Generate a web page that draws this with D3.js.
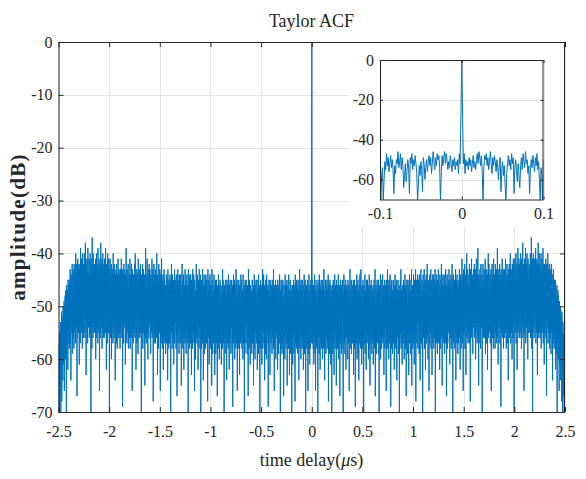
<!DOCTYPE html>
<html>
<head>
<meta charset="utf-8">
<script src="https://cdn.jsdelivr.net/npm/d3@7"></script>
<style>
  body { margin: 0; background: #fff; }
  text { font-family: "Liberation Serif", "Times New Roman", serif; fill: #262626; }
</style>
</head>
<body>
<svg id="chart" width="586" height="479"></svg>
<script>
// Autocorrelation magnitude (dB) of the Taylor-weighted waveform.
// |R(-t)| = |R(t)|, so only the non-negative lags are stored.

// Full span: lags 0 … 2.5 µs, 0.0025 µs apart (20 samples per row)
const fullLagStep = 0.0025;
const fullSpanDb = [
  0, -47, -57, -45, -55, -50, -58, -46, -61, -48, -56, -44, -53, -59, -47, -66, -52, -45, -57, -49,
  -58, -46, -54, -48, -70, -45, -56, -51, -47, -59, -44, -55, -49, -62, -46, -57, -50, -45, -58, -52,
  -47, -56, -45, -60, -49, -53, -46, -58, -43, -55, -48, -64, -47, -57, -45, -54, -59, -46, -52, -56,
  -45, -58, -50, -47, -57, -44, -68, -49, -55, -46, -59, -51, -45, -56, -48, -61, -46, -54, -47, -73,
  -48, -55, -46, -59, -52, -45, -57, -49, -63, -47, -54, -44, -58, -50, -46, -56, -48, -65, -45, -57,
  -51, -46, -58, -47, -55, -44, -60, -49, -56, -46, -53, -67, -48, -57, -45, -55, -50, -59, -46, -54,
  -58, -45, -52, -47, -71, -48, -56, -44, -57, -50, -46, -59, -49, -55, -45, -62, -47, -56, -51, -46,
  -55, -47, -60, -45, -53, -48, -57, -46, -66, -49, -54, -43, -58, -47, -56, -50, -45, -59, -48, -55,
  -46, -57, -49, -54, -45, -63, -47, -56, -50, -45, -58, -48, -69, -46, -55, -51, -47, -57, -44, -60,
  -48, -56, -45, -59, -47, -53, -64, -46, -57, -49, -44, -55, -48, -58, -43, -54, -50, -61, -46, -56,
  -47, -58, -45, -54, -49, -70, -46, -57, -48, -55, -44, -59, -47, -53, -50, -62, -45, -56, -48, -57,
  -45, -55, -51, -46, -60, -47, -56, -44, -58, -49, -65, -46, -54, -48, -57, -45, -53, -59, -47, -55,
  -49, -57, -46, -61, -48, -54, -45, -58, -47, -56, -43, -67, -50, -55, -46, -59, -48, -53, -45, -57,
  -56, -47, -54, -45, -59, -49, -72, -46, -55, -48, -57, -44, -60, -47, -53, -50, -58, -45, -56, -48,
  -44, -57, -49, -55, -46, -63, -47, -56, -45, -58, -50, -46, -54, -48, -66, -45, -57, -49, -55, -43,
  -58, -46, -53, -47, -60, -45, -56, -49, -57, -44, -55, -48, -69, -46, -58, -50, -45, -54, -47, -59,
  -48, -55, -45, -57, -50, -46, -62, -47, -56, -44, -58, -49, -53, -46, -57, -45, -64, -48, -55, -47,
  -56, -45, -59, -48, -54, -46, -71, -47, -57, -49, -45, -55, -43, -58, -47, -56, -50, -61, -46, -54,
  -47, -57, -45, -53, -49, -60, -46, -56, -44, -58, -48, -55, -46, -67, -47, -57, -45, -54, -50, -59,
  -45, -56, -48, -63, -46, -55, -44, -57, -49, -54, -47, -59, -45, -56, -43, -65, -48, -55, -46, -58,
  -46, -55, -44, -57, -48, -61, -45, -54, -47, -56, -43, -68, -49, -55, -45, -57, -46, -53, -44, -58,
  -56, -45, -53, -47, -59, -44, -55, -46, -64, -48, -54, -43, -57, -46, -52, -45, -58, -47, -70, -49,
  -44, -56, -46, -54, -43, -58, -48, -55, -45, -62, -47, -53, -44, -57, -46, -56, -42, -55, -48, -60,
  -47, -54, -45, -66, -46, -57, -44, -55, -48, -53, -43, -58, -46, -56, -45, -63, -47, -54, -44, -57,
  -55, -44, -58, -47, -53, -45, -56, -43, -71, -46, -55, -48, -57, -44, -54, -46, -59, -45, -56, -47,
  -43, -57, -46, -55, -48, -62, -44, -54, -47, -58, -45, -56, -42, -55, -49, -65, -46, -53, -44, -57,
  -56, -46, -54, -44, -59, -47, -55, -45, -57, -43, -54, -48, -67, -46, -56, -44, -58, -47, -53, -45,
  -48, -55, -43, -57, -46, -61, -45, -54, -47, -56, -44, -58, -46, -53, -42, -55, -47, -70, -45, -56,
  -44, -57, -47, -53, -45, -58, -46, -55, -43, -64, -48, -54, -45, -57, -44, -56, -47, -59, -46, -54,
  -57, -45, -55, -43, -56, -47, -62, -44, -54, -46, -58, -45, -53, -41, -57, -48, -55, -44, -66, -46,
  -43, -55, -45, -53, -42, -58, -46, -54, -44, -63, -47, -52, -40, -56, -45, -54, -43, -57, -46, -53,
  -55, -44, -57, -42, -54, -46, -68, -43, -53, -45, -56, -41, -55, -47, -52, -44, -59, -45, -54, -43,
  -46, -53, -42, -56, -45, -54, -43, -60, -47, -55, -41, -53, -46, -57, -44, -52, -39, -56, -45, -65,
  -44, -57, -46, -52, -43, -55, -45, -58, -42, -54, -47, -53, -44, -70, -46, -55, -42, -53, -45, -56,
  -53, -43, -56, -45, -54, -41, -59, -46, -52, -44, -57, -43, -55, -46, -62, -44, -53, -40, -56, -45,
  -42, -55, -47, -53, -44, -57, -45, -54, -43, -66, -46, -52, -42, -56, -45, -54, -44, -58, -41, -55,
  -56, -44, -53, -46, -58, -42, -55, -45, -52, -43, -57, -46, -54, -39, -56, -44, -61, -45, -53, -43,
  -45, -54, -42, -57, -44, -53, -46, -69, -43, -55, -45, -52, -41, -56, -47, -54, -43, -58, -44, -55,
  -53, -43, -56, -45, -52, -41, -55, -44, -58, -46, -54, -42, -57, -45, -53, -44, -64, -43, -55, -46,
  -42, -56, -44, -54, -40, -57, -45, -53, -43, -55, -46, -60, -42, -54, -44, -56, -41, -53, -45, -71,
  -43, -53, -41, -55, -44, -52, -40, -57, -45, -54, -42, -62, -44, -53, -39, -55, -43, -52, -41, -56,
  -54, -42, -56, -44, -51, -40, -55, -43, -58, -41, -53, -45, -54, -38, -56, -43, -52, -42, -66, -44,
  -41, -55, -43, -52, -39, -57, -44, -53, -42, -54, -40, -56, -43, -60, -41, -53, -45, -55, -42, -52,
  -55, -43, -53, -40, -56, -42, -54, -37, -58, -44, -52, -41, -70, -43, -55, -40, -53, -44, -56, -42,
  -41, -54, -44, -52, -39, -57, -43, -55, -41, -53, -45, -63, -42, -54, -38, -56, -43, -52, -40, -55,
  -53, -42, -56, -44, -54, -40, -58, -43, -52, -41, -55, -44, -53, -39, -57, -42, -54, -43, -61, -45,
  -42, -55, -43, -53, -41, -56, -44, -67, -42, -54, -45, -52, -40, -57, -43, -55, -44, -53, -42, -58,
  -44, -56, -43, -54, -46, -59, -42, -55, -45, -53, -44, -64, -46, -57, -43, -55, -47, -58, -45, -56,
  -46, -57, -45, -62, -47, -55, -48, -59, -46, -70, -49, -56, -47, -60, -48, -58, -50, -66, -49, -61,
  -51, -60, -50, -64, -52, -59, -53, -68, -51, -62, -55, -71, -53, -63, -56, -67, -55, -72, -57, -65,
  -70
];

// Close-in view: lags 0 … 0.1 µs, 0.001 µs apart
const zoomLagStep = 0.001;
const zoomSpanDb = [
  0, -28, -52,
  -47, -57, -50, -53,
  -51, -55, -49, -53, -50, -56, -52, -48, -54, -51, -55, -50,
  -47, -52, -46, -49, -53, -48,
  -56, -71, -54, -48,
  -50, -47, -53, -49, -55, -51, -46, -52, -57, -49, -53, -48,
  -51, -56, -50, -54, -60, -52, -49, -66, -55, -51,
  -58, -53, -62, -71, -57, -52,
  -48, -53, -50, -55, -47, -52, -49, -67, -54, -50,
  -56, -61, -52, -58, -64, -53,
  -49, -55, -47, -51, -54, -46, -52, -50,
  -57, -53, -67, -55, -50, -54,
  -48, -52, -56, -49, -53, -47, -55, -51,
  -60, -71, -54, -58, -71, -50
];

const mainXTicks = [-2.5, -2, -1.5, -1, -0.5, 0, 0.5, 1, 1.5, 2, 2.5];
const mainYTicks = [0, -10, -20, -30, -40, -50, -60, -70];
const insetXTicks = [-0.1, 0, 0.1];
const insetYTicks = [0, -20, -40, -60];
const titleText = "Taylor ACF";
const yLabelText = "amplitude(dB)";

const lineColor = "#0072bd";
const gridColor = "#e3e3e3";
const axisColor = "#262626";
const tickFont = '"Liberation Serif", "Times New Roman", serif';

function symmetricTrace(values, step) {
  const pts = [];
  for (let i = values.length - 1; i > 0; i--) pts.push([-i * step, values[i]]);
  for (let i = 0; i < values.length; i++) pts.push([i * step, values[i]]);
  return pts;
}

const svg = d3.select("#chart");
const defs = svg.append("defs");

function drawPanel(opts) {
  const { left, right, top, bottom, xDomain, yDomain, xTicks, yTicks,
          data, tickLen, xPad, yPad, fmt, id, backdrop } = opts;
  const x = d3.scaleLinear().domain(xDomain).range([left, right]);
  const y = d3.scaleLinear().domain(yDomain).range([bottom, top]);
  const g = svg.append("g");

  if (backdrop) {
    g.append("rect")
      .attr("x", backdrop.x0).attr("y", backdrop.y0)
      .attr("width", backdrop.x1 - backdrop.x0).attr("height", backdrop.y1 - backdrop.y0)
      .attr("fill", "#fff");
  }
  g.append("rect")
    .attr("x", left).attr("y", top)
    .attr("width", right - left).attr("height", bottom - top)
    .attr("fill", "#fff");

  // grid
  const grid = g.append("g").attr("stroke", gridColor).attr("stroke-width", 1);
  xTicks.forEach(t => {
    const px = Math.round(x(t)) + 0.5;
    grid.append("line").attr("x1", px).attr("x2", px).attr("y1", top).attr("y2", bottom);
  });
  yTicks.forEach(t => {
    const py = Math.round(y(t)) + 0.5;
    grid.append("line").attr("x1", left).attr("x2", right).attr("y1", py).attr("y2", py);
  });

  // trace, clipped to the plot box
  defs.append("clipPath").attr("id", id)
    .append("rect").attr("x", left).attr("y", top)
    .attr("width", right - left).attr("height", bottom - top);
  const line = d3.line().x(d => x(d[0])).y(d => y(d[1]));
  g.append("path")
    .datum(data)
    .attr("clip-path", `url(#${id})`)
    .attr("fill", "none")
    .attr("stroke", lineColor)
    .attr("stroke-width", 1)
    .attr("stroke-linejoin", "round")
    .attr("d", line);

  // axes with inward ticks on all four sides
  const ax = g.append("g");
  const styleAxis = sel => {
    sel.attr("font-family", tickFont).attr("font-size", 16);
    sel.select(".domain").remove();
    sel.selectAll(".tick line").attr("stroke", axisColor);
    sel.selectAll("text")
      .style("font-size", "16px")
      .style("font-family", tickFont)
      .attr("fill", axisColor);
  };
  ax.append("g").attr("transform", `translate(0,${bottom})`)
    .call(d3.axisBottom(x).tickValues(xTicks).tickFormat(fmt).tickSize(-tickLen).tickPadding(xPad))
    .call(styleAxis);
  ax.append("g").attr("transform", `translate(0,${top})`)
    .call(d3.axisTop(x).tickValues(xTicks).tickFormat("").tickSize(-tickLen))
    .call(styleAxis);
  ax.append("g").attr("transform", `translate(${left},0)`)
    .call(d3.axisLeft(y).tickValues(yTicks).tickFormat(fmt).tickSize(-tickLen).tickPadding(yPad))
    .call(styleAxis);
  ax.append("g").attr("transform", `translate(${right},0)`)
    .call(d3.axisRight(y).tickValues(yTicks).tickFormat("").tickSize(-tickLen))
    .call(styleAxis);

  g.append("rect")
    .attr("x", left + 0.5).attr("y", top + 0.5)
    .attr("width", right - left - 1).attr("height", bottom - top)
    .attr("fill", "none").attr("stroke", axisColor).attr("stroke-width", 1);
  return { x, y };
}

const fmt = d => String(d);

// full-span panel
drawPanel({
  left: 58.5, right: 565, top: 42, bottom: 412,
  xDomain: [-2.5, 2.5], yDomain: [-70, 0],
  xTicks: mainXTicks, yTicks: mainYTicks,
  data: symmetricTrace(fullSpanDb, fullLagStep),
  tickLen: 5, xPad: 14, yPad: 6, fmt, id: "clipMain"
});

// close-in panel around zero lag
drawPanel({
  left: 380, right: 543.5, top: 60, bottom: 199.5,
  xDomain: [-0.1, 0.1], yDomain: [-70, 0],
  xTicks: insetXTicks, yTicks: insetYTicks,
  data: symmetricTrace(zoomSpanDb, zoomLagStep),
  tickLen: 3, xPad: 8, yPad: 6, fmt, id: "clipInset",
  backdrop: { x0: 349, x1: 564, y0: 43, y1: 227 }
});

// titles
svg.append("text")
  .attr("x", 311.5).attr("y", 27)
  .attr("text-anchor", "middle")
  .style("font-size", "18px")
  .text(titleText);

const xl = svg.append("text")
  .attr("x", 311.5).attr("y", 466)
  .attr("text-anchor", "middle")
  .style("font-size", "18px");
xl.append("tspan").text("time delay(");
xl.append("tspan").style("font-style", "italic").text("\u03bc");
xl.append("tspan").text("s)");

svg.append("text")
  .attr("transform", "translate(25,227) rotate(-90)")
  .attr("text-anchor", "middle")
  .style("font-size", "21px")
  .style("font-weight", "bold")
  .style("letter-spacing", "1.3px")
  .text(yLabelText);
</script>
</body>
</html>
